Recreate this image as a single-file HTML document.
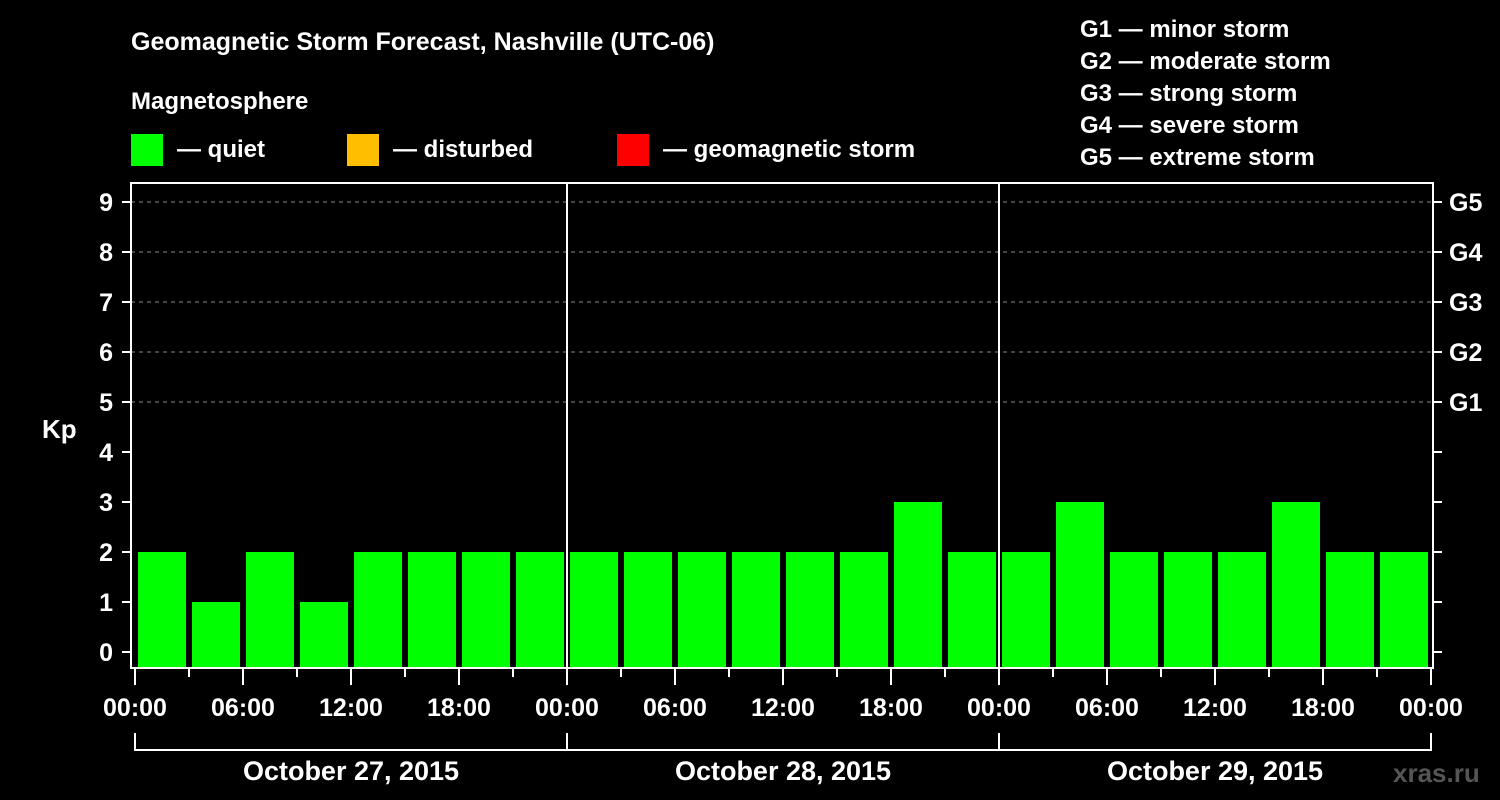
<!DOCTYPE html>
<html><head><meta charset="utf-8"><style>
body{margin:0;background:#000;}
svg{display:block;font-family:"Liberation Sans",Arial,sans-serif;font-weight:bold;}
</style></head><body>
<svg id="c" width="1500" height="800" viewBox="0 0 1500 800">
<rect width="1500" height="800" fill="#000"/>
<text x="131" y="50" fill="#fff" font-size="25">Geomagnetic Storm Forecast, Nashville (UTC-06)</text>
<text x="131" y="109" fill="#fff" font-size="24">Magnetosphere</text>
<g><rect x="131" y="134" width="32" height="32" fill="#00ff00"/><text x="177" y="157" fill="#fff" font-size="24">— quiet</text></g>
<g><rect x="347" y="134" width="32" height="32" fill="#ffbf00"/><text x="393" y="157" fill="#fff" font-size="24">— disturbed</text></g>
<g><rect x="617" y="134" width="32" height="32" fill="#ff0000"/><text x="663" y="157" fill="#fff" font-size="24">— geomagnetic storm</text></g>
<g fill="#fff" font-size="24">
<text x="1080" y="37">G1 — minor storm</text>
<text x="1080" y="69">G2 — moderate storm</text>
<text x="1080" y="101">G3 — strong storm</text>
<text x="1080" y="133">G4 — severe storm</text>
<text x="1080" y="165">G5 — extreme storm</text>
</g>
<text x="42" y="438" fill="#fff" font-size="26">Kp</text>
<text x="1393" y="782" fill="#555" font-size="26">xras.ru</text>
<g id="plot"></g>
</svg>
<script>
const kpValues=[2,1,2,1,2,2,2,2, 2,2,2,2,2,2,3,2, 2,3,2,2,2,3,2,2];
const yTicks=[0,1,2,3,4,5,6,7,8,9];
const gLabels=["G1","G2","G3","G4","G5"];
const xTickLabels=["00:00","06:00","12:00","18:00","00:00","06:00","12:00","18:00","00:00","06:00","12:00","18:00","00:00"];
const dayLabels=["October 27, 2015","October 28, 2015","October 29, 2015"];
const NS="http://www.w3.org/2000/svg";
const g=document.getElementById('plot');
const X=h=>135+h*18;
const Y=v=>652-v*50;
function el(t,a,p){const e=document.createElementNS(NS,t);for(const k in a)e.setAttribute(k,a[k]);(p||g).appendChild(e);return e;}
// grid
yTicks.forEach(v=>{if(v>=5){const l=el('line',{x1:131,x2:1433,y1:Y(v),y2:Y(v),stroke:'#888','stroke-dasharray':'4,4','stroke-width':1});

}});
// bars
kpValues.forEach((v,i)=>{const c=v>=5?'#ff0000':(v>=4?'#ffbf00':'#00ff00');
const r=el('rect',{x:X(i*3)+3,y:Y(v),width:48,height:668-Y(v),fill:c});

});
// axes frame
const f=el('rect',{x:131,y:183,width:1302,height:485,fill:'none',stroke:'#fff','stroke-width':2});


[1,2].forEach(d=>{const l=el('line',{x1:X(d*24),x2:X(d*24),y1:183,y2:668,stroke:'#fff','stroke-width':2});

});
// y ticks
yTicks.forEach(v=>{el('line',{x1:122,x2:131,y1:Y(v),y2:Y(v),stroke:'#fff','stroke-width':2});
el('line',{x1:1433,x2:1442,y1:Y(v),y2:Y(v),stroke:'#fff','stroke-width':2});
const t=el('text',{x:113,y:Y(v)+9,fill:'#fff','font-size':25,'text-anchor':'end'});t.textContent=v;

});
gLabels.forEach((s,i)=>{const t=el('text',{x:1449,y:Y(5+i)+9,fill:'#fff','font-size':25});t.textContent=s;

});
// x ticks
for(let h=0;h<=72;h+=3){const maj=h%6==0;el('line',{x1:X(h),x2:X(h),y1:669,y2:maj?685:677,stroke:'#fff','stroke-width':2});}
xTickLabels.forEach((s,i)=>{const t=el('text',{x:X(i*6),y:716,fill:'#fff','font-size':25,'text-anchor':'middle'});t.textContent=s;

});
// day brackets
el('polyline',{points:`${X(0)},733 ${X(0)},750 ${X(72)},750 ${X(72)},733`,fill:'none',stroke:'#fff','stroke-width':2});
[1,2].forEach(d=>el('line',{x1:X(d*24),x2:X(d*24),y1:733,y2:750,stroke:'#fff','stroke-width':2}));
dayLabels.forEach((s,i)=>{const t=el('text',{x:X(i*24+12),y:780,fill:'#fff','font-size':27,'text-anchor':'middle'});t.textContent=s;

});
</script>
</body></html>
